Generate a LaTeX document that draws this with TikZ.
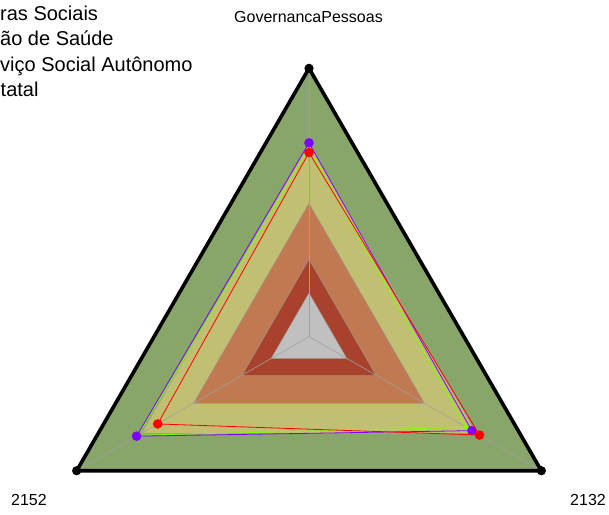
\documentclass[tikz,border=0pt]{standalone}
\usepackage{fontspec}
\setmainfont{Liberation Sans}
\usetikzlibrary{calc}

\definecolor{bandgreen}{RGB}{137,166,106}
\definecolor{bandkhaki}{RGB}{193,191,114}
\definecolor{bandorange}{RGB}{192,121,80}
\definecolor{bandred}{RGB}{168,66,44}
\definecolor{bandgray}{RGB}{192,192,192}
\definecolor{axisgray}{RGB}{160,160,160}
\definecolor{serpurple}{RGB}{128,0,255}
\definecolor{sergreen}{RGB}{128,255,0}
\definecolor{serred}{RGB}{255,0,0}

\begin{document}
\begin{tikzpicture}[x=1pt,y=1pt,
    band/.style={fill=#1, draw=axisgray, line width=0.4},
    serie/.style={draw=#1, line width=0.8}]
    \useasboundingbox (0,0) rectangle (609,514);
    \clip (0,0) rectangle (609,514);
    \coordinate (O) at (309,177.4);
    \begin{scope}[shift={(O)}]
        % bands
        \foreach \r/\c in {268.3/bandgreen, 193.2/bandkhaki, 133.4/bandorange, 77.3/bandred, 43.5/bandgray}
            \draw [band=\c] (90:\r) -- (210:\r) -- (330:\r) -- cycle;
        \coordinate (gov) at (90:268.3);
        \coordinate (v2152) at (210:268.3);
        \coordinate (v2132) at (330:268.3);
        \draw [axisgray, line width=0.6] (0,0) -- (gov);
        \draw [axisgray, line width=0.6] (0,0) -- (v2152);
        \draw [axisgray, line width=0.6] (0,0) -- (v2132);
        \draw [line width=3.6] (gov) -- (v2152) -- (v2132) -- cycle;
        \foreach \p in {gov, v2152, v2132}
            \fill (\p) circle (4.6);
        % series
        \foreach \a/\b/\c/\col/\m in {187.8/197.2/181.6/sergreen/2.6, 193.7/199.1/188.1/serpurple/4.8, 184.1/174.7/196.9/serred/4.8} {
            \draw [serie=\col] (90:\a) -- (210:\b) -- (330:\c) -- cycle;
            \fill [\col] (90:\a) circle (\m);
            \fill [\col] (210:\b) circle (\m);
            \fill [\col] (330:\c) circle (\m);
        }
    \end{scope}
    % labels
    \node [anchor=base, font=\fontsize{16}{18}\selectfont, inner sep=0] (lgov) at (308.5,491.3) {GovernancaPessoas};
    \node [anchor=base, font=\fontsize{16}{18}\selectfont, inner sep=0] (l2152) at (29,9) {2152};
    \node [anchor=base, font=\fontsize{16}{18}\selectfont, inner sep=0] (l2132) at (588,9) {2132};
    % legend
    \node [anchor=base west, font=\fontsize{20}{22}\selectfont, inner sep=0] (leg1) at (0,493.3) {ras Sociais};
    \node [anchor=base west, font=\fontsize{20}{22}\selectfont, inner sep=0] (leg2) at (0,468) {ão de Saúde};
    \node [anchor=base west, font=\fontsize{20}{22}\selectfont, inner sep=0] (leg3) at (0,442.3) {viço Social Autônomo};
    \node [anchor=base west, font=\fontsize{20}{22}\selectfont, inner sep=0] (leg4) at (0.5,417.3) {tatal};
\end{tikzpicture}
\end{document}
